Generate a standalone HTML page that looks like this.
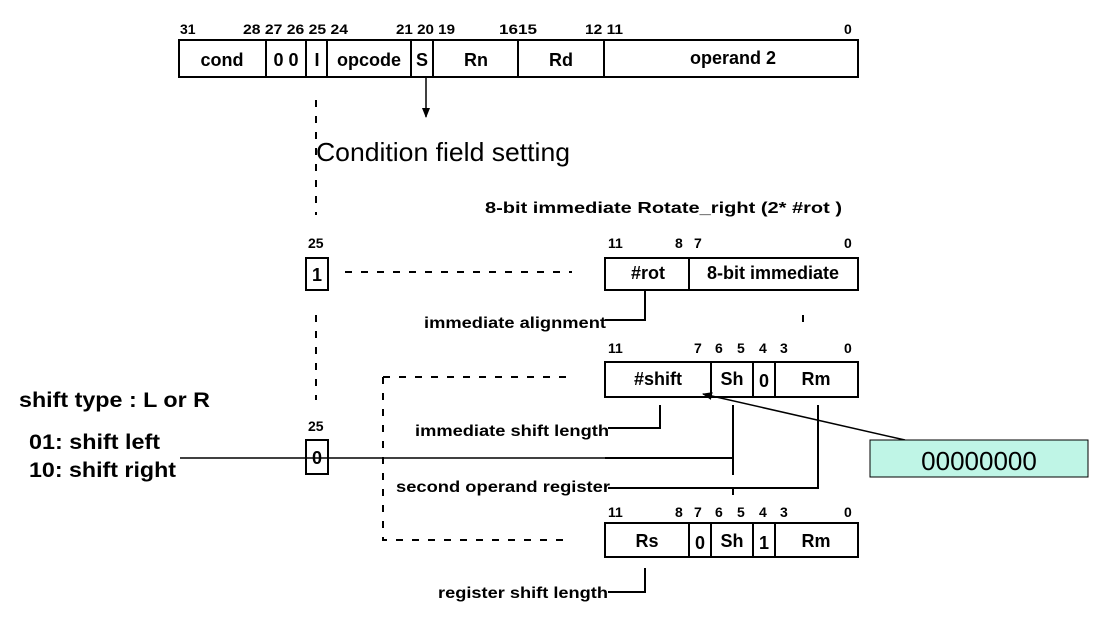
<!DOCTYPE html>
<html><head><meta charset="utf-8"><style>
html,body{margin:0;padding:0;background:#fff;}
svg{display:block;}
text{font-family:"Liberation Sans",Arial,sans-serif;font-weight:bold;fill:#000;}
.n{font-size:14px;}
.f{font-size:18px;}
.l{font-size:16px;}
</style></head><body>
<svg width="1103" height="620" viewBox="0 0 1103 620" xmlns="http://www.w3.org/2000/svg">
<defs><marker id="ah" markerWidth="10" markerHeight="10" refX="9" refY="5" orient="auto" markerUnits="userSpaceOnUse"><path d="M0,1 L10,5 L0,9 Z" fill="#000"/></marker></defs>
<g stroke="#000" fill="none" stroke-width="2">
<rect x="179" y="40" width="679" height="37"/>
<path d="M266 40V77M306 40V77M327 40V77M411 40V77M433 40V77M518 40V77M604 40V77"/>
<rect x="605" y="258" width="253" height="32"/>
<path d="M689 258V290"/>
<rect x="306" y="258" width="22" height="32"/>
<rect x="605" y="362" width="253" height="35"/>
<path d="M711 362V397M753 362V397M775 362V397"/>
<rect x="306" y="440" width="22" height="34"/>
<rect x="605" y="523" width="253" height="34"/>
<path d="M689 523V557M711 523V557M753 523V557M775 523V557"/>
<path d="M645 291V320H605M660 405V428H608M733 405V475M605 458H733M818 405V488H608M645 568V592H608"/>
</g>
<g stroke="#000" fill="none" stroke-width="1.5">
<path d="M426 77V117" marker-end="url(#ah)"/>
<path d="M905 440L703 394" marker-end="url(#ah)"/>
<path d="M180 458H605"/>
</g>
<g stroke="#000" fill="none" stroke-width="2" stroke-dasharray="7,9">
<path d="M316 100V215M316 315V400M345 272H572M383 377H572M383 377V540H572M733 488V500M803 315V327"/>
</g>
<rect x="870" y="440" width="218" height="37" fill="#bff5e6" stroke="#000" stroke-width="1"/>
<text x="979" y="470" text-anchor="middle" style="font-weight:normal;font-size:26px">00000000</text>
<text x="316" y="161" style="font-weight:normal;font-size:26px" textLength="254" lengthAdjust="spacingAndGlyphs">Condition field setting</text>
<g class="n">
<text x="180" y="34">31</text><text x="243" y="34" textLength="105" lengthAdjust="spacingAndGlyphs">28 27 26 25 24</text><text x="396" y="34" textLength="59" lengthAdjust="spacingAndGlyphs">21 20 19</text><text x="499" y="34" textLength="38" lengthAdjust="spacingAndGlyphs">1615</text><text x="585" y="34" textLength="38" lengthAdjust="spacingAndGlyphs">12 11</text><text x="844" y="34">0</text>
<text x="308" y="248">25</text><text x="608" y="248">11</text><text x="675" y="248">8</text><text x="694" y="248">7</text><text x="844" y="248">0</text>
<text x="608" y="353">11</text><text x="694" y="353">7</text><text x="715" y="353">6</text><text x="737" y="353">5</text><text x="759" y="353">4</text><text x="780" y="353">3</text><text x="844" y="353">0</text>
<text x="308" y="431">25</text>
<text x="608" y="517">11</text><text x="675" y="517">8</text><text x="694" y="517">7</text><text x="715" y="517">6</text><text x="737" y="517">5</text><text x="759" y="517">4</text><text x="780" y="517">3</text><text x="844" y="517">0</text>
</g>
<g class="f" text-anchor="middle">
<text x="222" y="66">cond</text><text x="286" y="66">0 0</text><text x="317" y="66">I</text><text x="369" y="66">opcode</text><text x="422" y="66">S</text><text x="476" y="66">Rn</text><text x="561" y="66">Rd</text><text x="733" y="64">operand 2</text>
<text x="317" y="281">1</text><text x="648" y="279">#rot</text><text x="773" y="279">8-bit immediate</text>
<text x="658" y="385">#shift</text><text x="732" y="385">Sh</text><text x="764" y="387">0</text><text x="816" y="385">Rm</text>
<text x="317" y="464">0</text>
<text x="647" y="547">Rs</text><text x="700" y="549">0</text><text x="732" y="547">Sh</text><text x="764" y="549">1</text><text x="816" y="547">Rm</text>
</g>
<g class="l">
<text x="485" y="213" textLength="357" lengthAdjust="spacingAndGlyphs">8-bit immediate Rotate_right (2* #rot )</text>
<text x="424" y="328" textLength="182" lengthAdjust="spacingAndGlyphs">immediate alignment</text>
<text x="415" y="436" textLength="194" lengthAdjust="spacingAndGlyphs">immediate shift length</text>
<text x="396" y="492" textLength="214" lengthAdjust="spacingAndGlyphs">second operand register</text>
<text x="438" y="598" textLength="170" lengthAdjust="spacingAndGlyphs">register shift length</text>
</g>
<g style="font-size:21px">
<text x="19" y="407" textLength="191" lengthAdjust="spacingAndGlyphs">shift type : L or R</text>
<text x="29" y="449" textLength="131" lengthAdjust="spacingAndGlyphs">01: shift left</text>
<text x="29" y="477" textLength="147" lengthAdjust="spacingAndGlyphs">10: shift right</text>
</g>
</svg>
</body></html>
